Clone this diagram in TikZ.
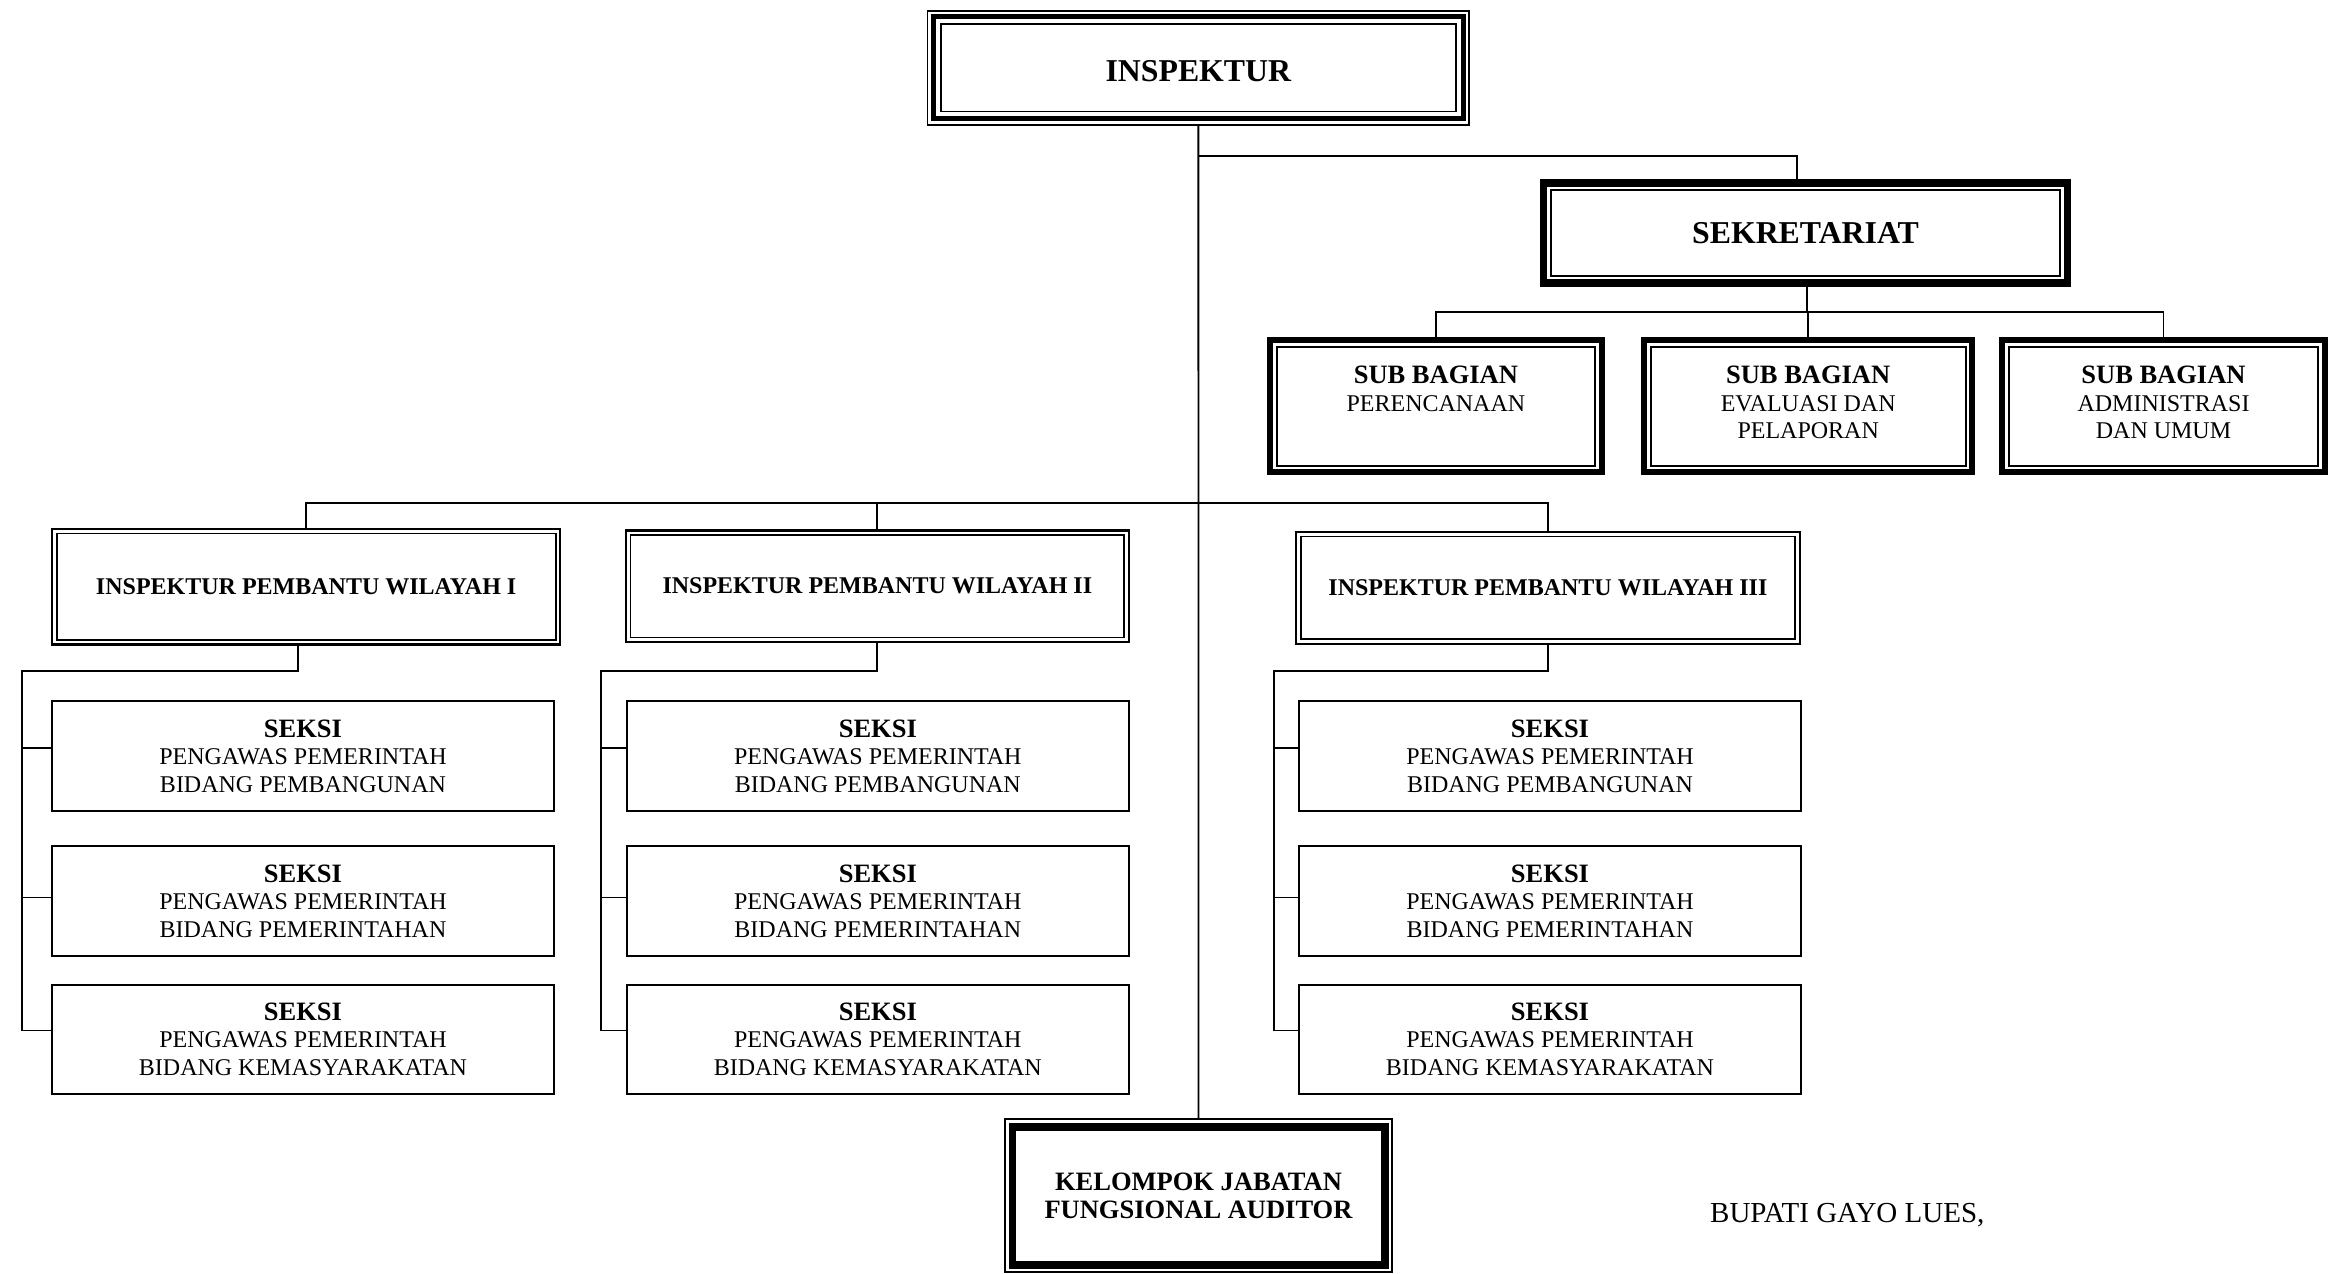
\documentclass[tikz,border=0pt]{standalone}
\usepackage{fontspec}
\setmainfont{Liberation Serif}
\newcommand\rimline[3]{\draw[line width=#3pt] ([xshift=#2pt,yshift=-#2pt]#1.north west) rectangle ([xshift=-#2pt,yshift=#2pt]#1.south east);}
\newcommand\hd[1]{{\fontsize{26.5}{27.5}\selectfont\bfseries #1}}
\tikzset{
  box/.style={draw=none, inner sep=0pt, outer sep=0pt, align=center, font=\fontsize{24}{27.5}\selectfont},
  bigtitle/.style={font=\fontsize{31.8}{36}\selectfont\bfseries},
  ipwtitle/.style={font=\fontsize{24}{27.5}\selectfont\bfseries},
  conn/.style={line width=1.8pt},
}
\begin{document}
\begin{tikzpicture}[x=1pt,y=-1pt]
\useasboundingbox (0,0) rectangle (2330,1274);
\fill[white] (0,0) rectangle (2330,1274);

% INSPEKTUR
\node[box, bigtitle, text height=27pt, text depth=0pt, minimum width=543.3pt, minimum height=115.5pt] (insp) at (1198.35,67.75) {INSPEKTUR};
\rimline{insp}{0.85}{1.7}
\rimline{insp}{6.7}{4.7}
\rimline{insp}{14.1}{1.8}

% SEKRETARIAT
\node[box, bigtitle, minimum width=531pt, minimum height=107.4pt] (sek) at (1805.5,233) {SEKRETARIAT};
\rimline{sek}{3.65}{7.3}
\rimline{sek}{10.6}{2}

% SUB BAGIAN
\tikzset{sbbox/.style={box, text depth=7pt, minimum height=137.7pt}}
\node[sbbox, minimum width=337.2pt] (sb1) at (1435.9,406.15) {\hd{SUB BAGIAN}\\PERENCANAAN\\\mbox{}};
\node[sbbox, minimum width=334pt] (sb2) at (1808.2,406.15) {\hd{SUB BAGIAN}\\EVALUASI DAN\\PELAPORAN};
\node[sbbox, minimum width=328.5pt] (sb3) at (2163.5,406.15) {\hd{SUB BAGIAN}\\ADMINISTRASI\\DAN UMUM};
\foreach \n in {sb1,sb2,sb3}{
  \rimline{\n}{3}{6}
  \rimline{\n}{9.3}{2}
}

% INSPEKTUR PEMBANTU
\node[box, ipwtitle, minimum width=510.5pt, minimum height=118pt] (ipw1) at (306.15,586.7) {INSPEKTUR PEMBANTU WILAYAH I};
\node[box, ipwtitle, minimum width=505.3pt, minimum height=114.3pt] (ipw2) at (877.35,586.15) {INSPEKTUR PEMBANTU WILAYAH II};
\node[box, ipwtitle, minimum width=506.2pt, minimum height=114.3pt] (ipw3) at (1547.9,587.85) {INSPEKTUR PEMBANTU WILAYAH III};
\foreach \n in {ipw1,ipw2,ipw3}{
  \rimline{\n}{1.25}{2.5}
  \rimline{\n}{5.8}{1.8}
}

% SEKSI
\foreach \c/\cx in {1/303,2/877.8,3/1550}{
  \foreach \r/\cy/\txt in {1/756/PEMBANGUNAN,2/901/PEMERINTAHAN,3/1039.3/KEMASYARAKATAN}{
    \node[box, minimum width=504.4pt, minimum height=111.5pt] (s\c\r) at (\cx,\cy) {\hd{SEKSI}\\PENGAWAS PEMERINTAH\\BIDANG \txt};
    \rimline{s\c\r}{1.1}{2.2}
  }
  \coordinate (t\c1) at ([yshift=8pt]s\c1.west);
  \coordinate (t\c2) at ([yshift=3.5pt]s\c2.west);
  \coordinate (t\c3) at ([yshift=8.8pt]s\c3.west);
}

% KELOMPOK
\node[box, font=\fontsize{26.5}{28.3}\selectfont\bfseries, minimum width=389pt, minimum height=155pt] (kel) at (1198.5,1195.8) {KELOMPOK JABATAN\\FUNGSIONAL AUDITOR};
\rimline{kel}{1}{2}
\rimline{kel}{8.35}{7.7}

% BUPATI
\node[anchor=base west, inner sep=0pt, font=\fontsize{29}{33}\selectfont] (bup) at (1710,1222.7) {BUPATI GAYO LUES,};

% connectors
\draw[conn] (insp.south) -- (kel.north);
\coordinate (j1) at (1198.4,155.7);
\draw[conn] (j1) -| ([xshift=-8.8pt]sek.north);

\coordinate (sbus) at (0,311.7);
\coordinate (sekb) at ([xshift=1.8pt]sek.south);
\draw[conn] (sekb) -- (sekb |- sbus);
\draw[conn] (sb1.north) -- (sb1.north |- sbus) -- (sb3.north |- sbus) -- (sb3.north);
\draw[conn] (sb2.north) -- (sb2.north |- sbus);

\coordinate (ibus) at (0,502.7);
\draw[conn] (ipw1.north) -- (ipw1.north |- ibus) -- (ipw3.north |- ibus) -- (ipw3.north);
\draw[conn] (ipw2.north) -- (ipw2.north |- ibus);

\coordinate (k1) at (21.8,670.7);
\coordinate (k2) at (600.6,670.7);
\coordinate (k3) at (1273.7,670.7);
\coordinate (d1) at ([xshift=-8.5pt]ipw1.south);
\coordinate (d2) at (ipw2.south);
\coordinate (d3) at (ipw3.south);
\foreach \c in {1,2,3}{
  \draw[conn] (d\c) |- (k\c) -- (k\c |- t\c3) -- (t\c3);
  \draw[conn] (k\c |- t\c1) -- (t\c1);
  \draw[conn] (k\c |- t\c2) -- (t\c2);
}
\end{tikzpicture}
\end{document}
